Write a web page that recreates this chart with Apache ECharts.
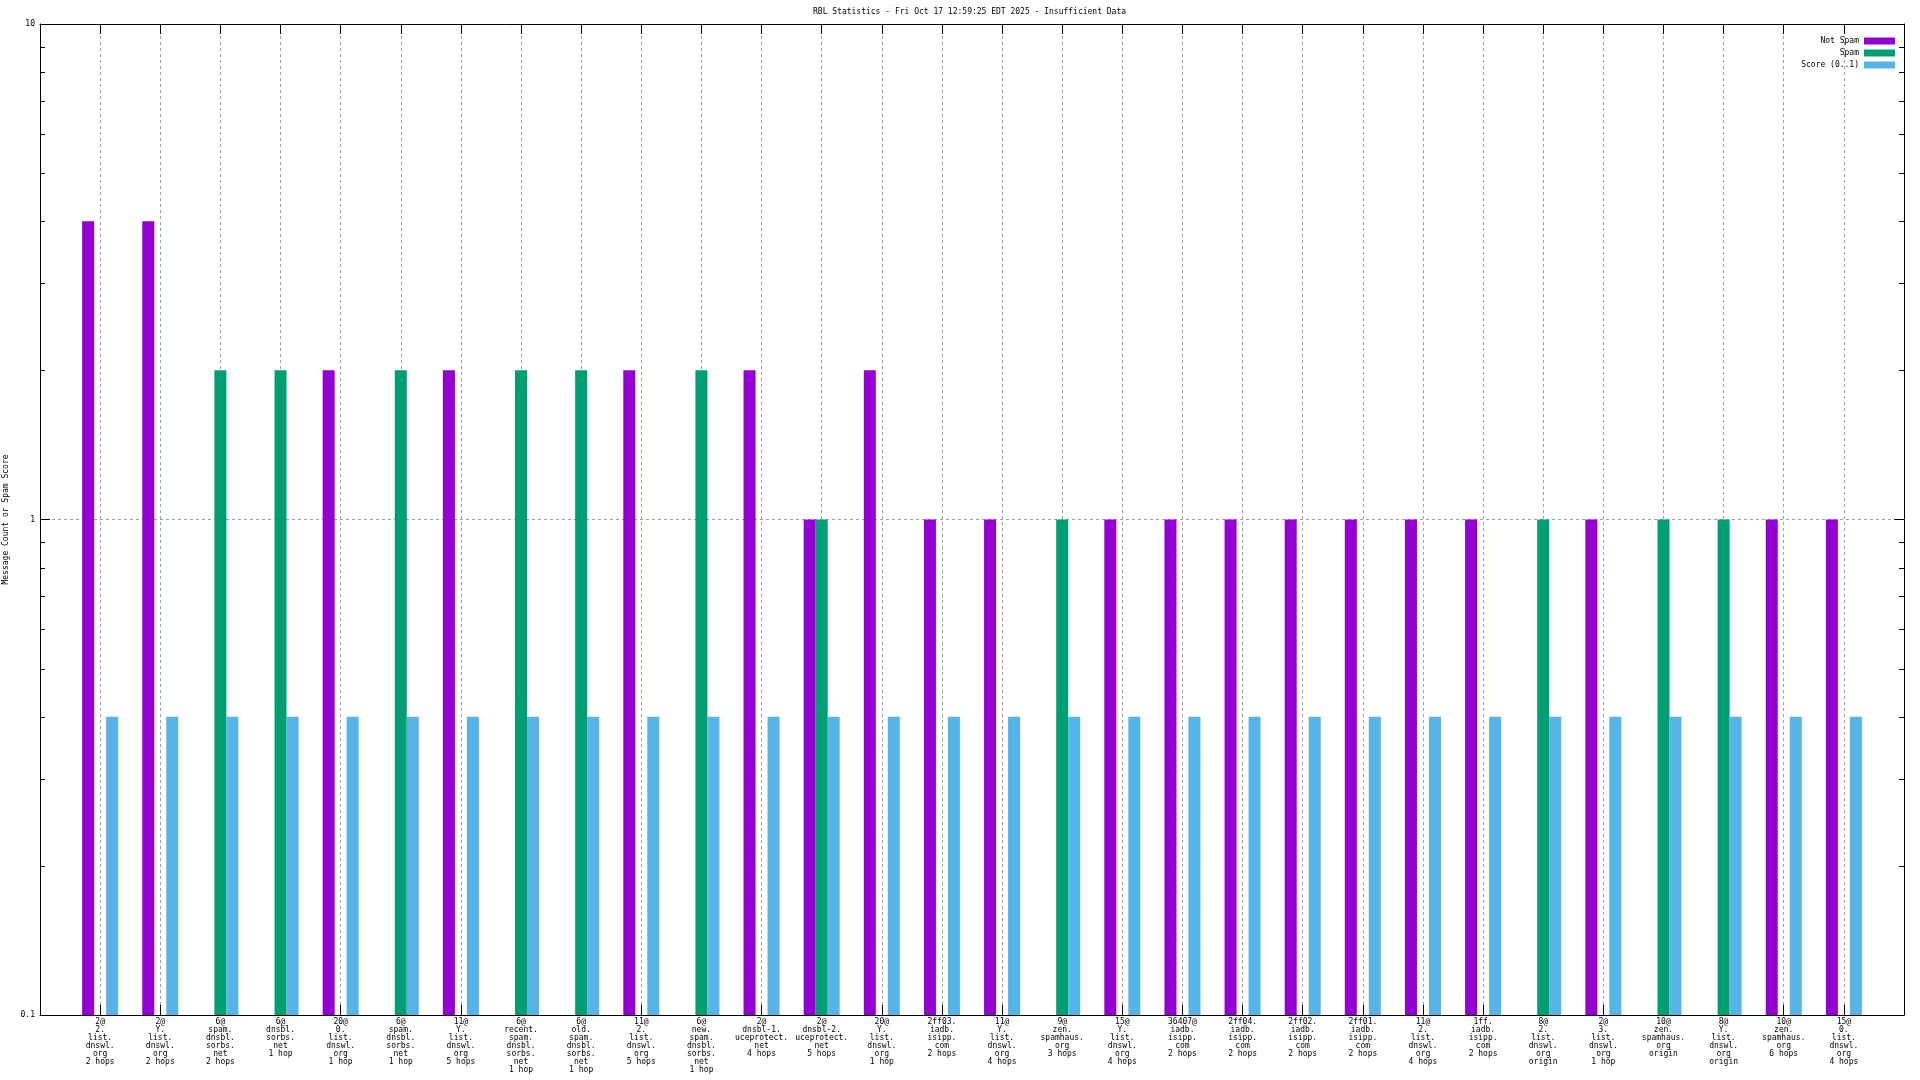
<!DOCTYPE html>
<html>
<head>
<meta charset="utf-8">
<script src="https://cdn.jsdelivr.net/npm/echarts@6/dist/echarts.min.js"></script>
<style>
html,body{margin:0;padding:0;background:#fff;}
#chart{width:1920px;height:1080px;}
</style>
</head>
<body>
<div id="chart"></div>
<script>
// ---- data ----
const categories = [
  "2@\n2.\nlist.\ndnswl.\norg\n2 hops",
  "2@\nY.\nlist.\ndnswl.\norg\n2 hops",
  "6@\nspam.\ndnsbl.\nsorbs.\nnet\n2 hops",
  "6@\ndnsbl.\nsorbs.\nnet\n1 hop",
  "20@\n0.\nlist.\ndnswl.\norg\n1 hop",
  "6@\nspam.\ndnsbl.\nsorbs.\nnet\n1 hop",
  "11@\nY.\nlist.\ndnswl.\norg\n5 hops",
  "6@\nrecent.\nspam.\ndnsbl.\nsorbs.\nnet\n1 hop",
  "6@\nold.\nspam.\ndnsbl.\nsorbs.\nnet\n1 hop",
  "11@\n2.\nlist.\ndnswl.\norg\n5 hops",
  "6@\nnew.\nspam.\ndnsbl.\nsorbs.\nnet\n1 hop",
  "2@\ndnsbl-1.\nuceprotect.\nnet\n4 hops",
  "2@\ndnsbl-2.\nuceprotect.\nnet\n5 hops",
  "20@\nY.\nlist.\ndnswl.\norg\n1 hop",
  "2ff03.\niadb.\nisipp.\ncom\n2 hops",
  "11@\nY.\nlist.\ndnswl.\norg\n4 hops",
  "9@\nzen.\nspamhaus.\norg\n3 hops",
  "15@\nY.\nlist.\ndnswl.\norg\n4 hops",
  "36407@\niadb.\nisipp.\ncom\n2 hops",
  "2ff04.\niadb.\nisipp.\ncom\n2 hops",
  "2ff02.\niadb.\nisipp.\ncom\n2 hops",
  "2ff01.\niadb.\nisipp.\ncom\n2 hops",
  "11@\n2.\nlist.\ndnswl.\norg\n4 hops",
  "1ff.\niadb.\nisipp.\ncom\n2 hops",
  "8@\n2.\nlist.\ndnswl.\norg\norigin",
  "2@\n3.\nlist.\ndnswl.\norg\n1 hop",
  "10@\nzen.\nspamhaus.\norg\norigin",
  "8@\nY.\nlist.\ndnswl.\norg\norigin",
  "10@\nzen.\nspamhaus.\norg\n6 hops",
  "15@\n0.\nlist.\ndnswl.\norg\n4 hops"
];
const notSpam = [4,4,null,null,2,null,2,null,null,2,null,2,1,2,1,1,null,1,1,1,1,1,1,1,null,1,null,null,1,1];
const spam    = [null,null,2,2,null,2,null,2,2,null,2,null,1,null,null,null,1,null,null,null,null,null,null,null,1,null,1,1,null,null];
const score   = [0.4,0.4,0.4,0.4,0.4,0.4,0.4,0.4,0.4,0.4,0.4,0.4,0.4,0.4,0.4,0.4,0.4,0.4,0.4,0.4,0.4,0.4,0.4,0.4,0.4,0.4,0.4,0.4,0.4,0.4];
const seriesNames = ["Not Spam", "Spam", "Score (0..1)"];
const yMajorTicks = [0.1, 1, 10];
const yMinorTicks = [0.2,0.3,0.4,0.5,0.6,0.7,0.8,0.9,2,3,4,5,6,7,8,9];
const titleText = "RBL Statistics - Fri Oct 17 12:59:25 EDT 2025 - Insufficient Data";
const yAxisName = "Message Count or Spam Score";

// ---- build ----
const FONT = "DejaVu Sans Mono";
const axisCats = [""].concat(categories, [""]);
const pad = arr => [null].concat(arr, [null]);
const colors = ["#9400d3", "#009e73", "#56b4e9"];
const chart = echarts.init(document.getElementById('chart'), null, {renderer: 'canvas'});

const gridLine = {show: true, lineStyle: {color: '#a0a0a0', width: 1, type: [3, 3]}};

const option = {
  backgroundColor: '#fff',
  animation: false,
  title: {
    text: titleText,
    left: 813, top: 8, padding: 0,
    textStyle: {fontFamily: FONT, fontSize: 8, fontWeight: 'normal', color: '#000'}
  },
  legend: {
    data: seriesNames,
    orient: 'vertical',
    right: 25, top: 36, padding: 0,
    align: 'right',
    itemWidth: 31, itemHeight: 7, itemGap: 2,
    icon: 'rect',
    textStyle: {fontFamily: FONT, fontSize: 8, lineHeight: 10, color: '#000'}
  },
  grid: {left: 40, right: 16, top: 24, bottom: 65, containLabel: false, outerBoundsMode: 'none'},
  xAxis: [{
    type: 'category', data: axisCats, boundaryGap: false, position: 'bottom',
    axisLine: {show: true, lineStyle: {color: '#000', width: 1}},
    axisTick: {show: true, inside: true, length: 10, interval: 0, lineStyle: {color: '#000'}},
    axisLabel: {interval: 0, fontFamily: FONT, fontSize: 8, lineHeight: 8, margin: 3, color: '#000', hideOverlap: false},
    splitLine: Object.assign({interval: 0}, gridLine)
  }, {
    type: 'category', data: axisCats, boundaryGap: false, position: 'top',
    axisLine: {show: true, lineStyle: {color: '#000', width: 1}},
    axisTick: {show: true, inside: true, length: 10, interval: 0, lineStyle: {color: '#000'}},
    axisLabel: {show: false},
    splitLine: {show: false}
  }],
  yAxis: [{
    type: 'log', logBase: 10, min: 0.1, max: 10, startValue: 0.1,
    name: yAxisName, nameLocation: 'middle', nameRotate: 90, nameGap: 29,
    nameTextStyle: {fontFamily: FONT, fontSize: 8, color: '#000'},
    axisLine: {show: true, lineStyle: {color: '#000', width: 1}},
    axisTick: {show: true, inside: true, length: 10, lineStyle: {color: '#000'}},
    minorTick: {show: false},
    axisLabel: {fontFamily: FONT, fontSize: 8, margin: 5, color: '#000',
      formatter: v => {
        const m = yMajorTicks.find(t => Math.abs(t - v) < 1e-9 * Math.max(1, t));
        return m === undefined ? '' : String(m);
      }},
    splitLine: gridLine
  }, {
    type: 'log', logBase: 10, min: 0.1, max: 10, position: 'right',
    axisLine: {show: true, lineStyle: {color: '#000', width: 1}},
    axisTick: {show: true, inside: true, length: 10, lineStyle: {color: '#000'}},
    axisLabel: {show: false},
    splitLine: {show: false}
  }],
  series: [
    {name: seriesNames[0], type: 'bar', data: pad(notSpam), barWidth: 12, barGap: '0%',
     itemStyle: {color: colors[0]}, xAxisIndex: 0, yAxisIndex: 0},
    {name: seriesNames[1], type: 'bar', data: pad(spam), barWidth: 12, barGap: '0%',
     itemStyle: {color: colors[1]}, xAxisIndex: 0, yAxisIndex: 0},
    {name: seriesNames[2], type: 'bar', data: pad(score), barWidth: 12, barGap: '0%',
     itemStyle: {color: colors[2]}, xAxisIndex: 0, yAxisIndex: 0},
    {
      name: 'minorTicks', type: 'custom', silent: true, xAxisIndex: 0, yAxisIndex: 0,
      data: yMinorTicks.map(v => [0, v]),
      encode: {x: 0, y: 1},
      clip: false, z: 5,
      renderItem: function (params, api) {
        const v = api.value(1);
        const l = api.coord([0, v]);
        const r = api.coord([axisCats.length - 1, v]);
        const y = Math.round(l[1]) + 0.5;
        return {type: 'group', children: [
          {type: 'line', shape: {x1: l[0], y1: y, x2: l[0] + 5, y2: y}, style: {stroke: '#000', lineWidth: 1}},
          {type: 'line', shape: {x1: r[0] - 5, y1: y, x2: r[0], y2: y}, style: {stroke: '#000', lineWidth: 1}}
        ]};
      }
    }
  ]
};
chart.setOption(option);
</script>
</body>
</html>
